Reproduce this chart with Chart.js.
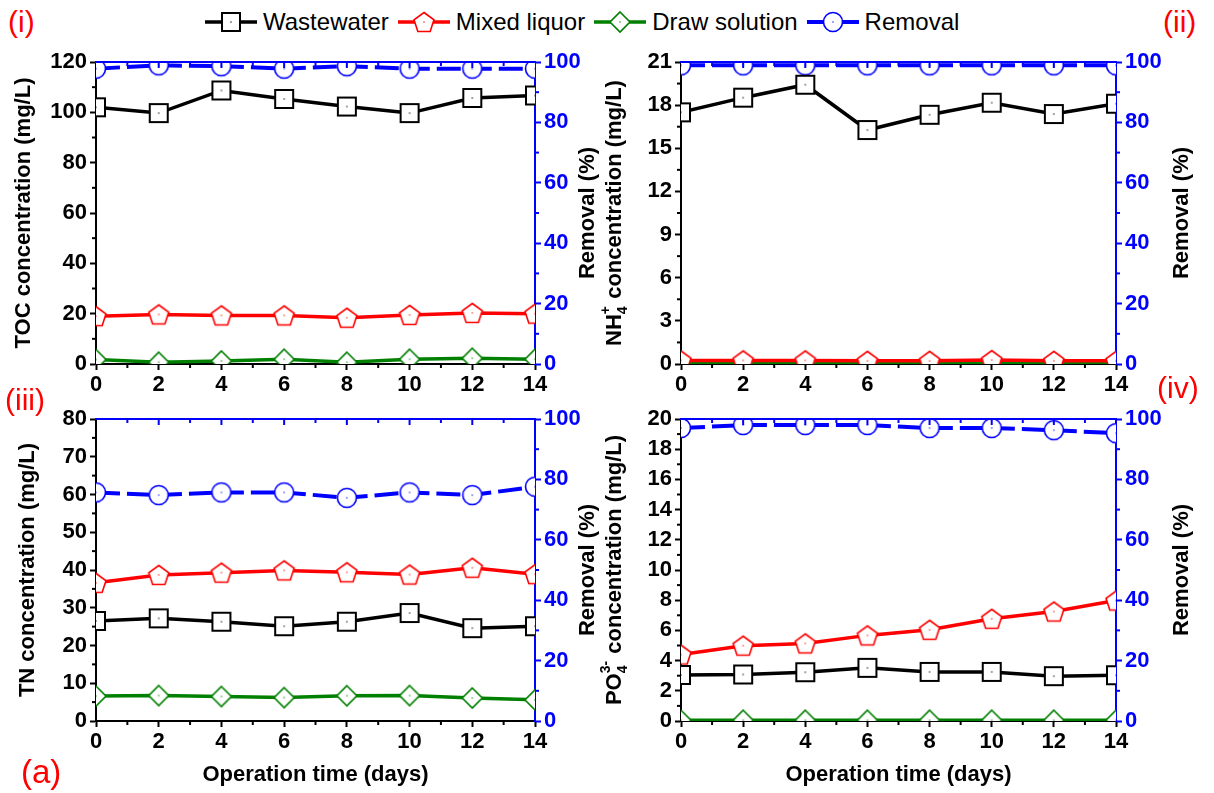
<!DOCTYPE html>
<html>
<head>
<meta charset="utf-8">
<title>Concentration and removal over operation time</title>
<script src="https://cdn.jsdelivr.net/npm/chart.js@4.4.1/dist/chart.umd.min.js"></script>
<style>
  html, body { margin: 0; padding: 0; background: #fff; }
  #page { position: relative; width: 1214px; height: 793px; overflow: hidden; font-family: "Liberation Sans", Arial, sans-serif; }
  .panel { position: absolute; }
  .tag { position: absolute; color: #ff0000; font-size: 30px; line-height: 30px; }
  #legend { position: absolute; left: 205px; top: 7px; height: 30px; display: flex; align-items: center; font-size: 24px; color: #000; white-space: nowrap; }
  #legend .item { display: flex; align-items: center; margin-right: 9px; }
  #legend canvas { margin-right: 6px; }
</style>
</head>
<body>
<div id="page">
  <div id="legend"></div>

  <canvas class="panel" id="tocChart" width="600" height="360" style="left:0;top:40px"></canvas>
  <canvas class="panel" id="nh4Chart" width="614" height="360" style="left:600px;top:40px"></canvas>
  <canvas class="panel" id="tnChart" width="600" height="393" style="left:0;top:400px"></canvas>
  <canvas class="panel" id="po4Chart" width="614" height="393" style="left:600px;top:400px"></canvas>

  <div class="tag" style="left:8px;top:7px">(i)</div>
  <div class="tag" style="left:1163px;top:7px">(ii)</div>
  <div class="tag" style="left:5px;top:385px">(iii)</div>
  <div class="tag" style="left:1157px;top:373px">(iv)</div>
  <div class="tag" style="left:21px;top:755px;font-size:33px;line-height:33px">(a)</div>
</div>

<script>
// ---- data ----
const DAYS = [0, 2, 4, 6, 8, 10, 12, 14];
const SERIES_NAMES = ['Wastewater', 'Mixed liquor', 'Draw solution', 'Removal'];

// (i) TOC
const TOC_WASTE   = [102.0, 99.7, 108.7, 105.3, 102.3, 99.7, 105.7, 106.7];
const TOC_MIXED   = [19.0, 19.7, 19.3, 19.3, 18.4, 19.5, 20.3, 20.0];
const TOC_DRAW    = [1.8, 0.7, 1.2, 1.9, 0.7, 1.9, 2.3, 1.9];
const TOC_REMOVAL = [97.8, 98.9, 98.6, 97.8, 98.6, 97.8, 97.8, 97.8];

// (ii) NH4+
const NH4_WASTE   = [17.5, 18.52, 19.42, 16.27, 17.33, 18.17, 17.38, 18.1];
const NH4_MIXED   = [0.25, 0.25, 0.25, 0.22, 0.22, 0.27, 0.22, 0.22];
const NH4_DRAW    = [0.12, 0.12, 0.12, 0.12, 0.12, 0.12, 0.12, 0.12];
const NH4_REMOVAL = [98.9, 98.9, 98.9, 98.9, 98.9, 98.9, 98.9, 98.9];

// (iii) TN
const TN_WASTE   = [26.5, 27.2, 26.3, 25.1, 26.3, 28.6, 24.6, 25.1];
const TN_MIXED   = [36.6, 38.7, 39.3, 39.9, 39.4, 38.8, 40.6, 38.9];
const TN_DRAW    = [6.6, 6.75, 6.5, 6.2, 6.7, 6.75, 6.1, 5.6];
const TN_REMOVAL = [75.7, 74.8, 75.7, 75.7, 73.9, 75.7, 74.8, 77.6];

// (iv) PO4 3-
const PO4_WASTE   = [3.05, 3.08, 3.23, 3.52, 3.25, 3.25, 2.97, 3.03];
const PO4_MIXED   = [4.4, 4.99, 5.14, 5.67, 6.04, 6.77, 7.25, 7.98];
const PO4_DRAW    = [0.05, 0.05, 0.05, 0.05, 0.05, 0.05, 0.05, 0.05];
const PO4_REMOVAL = [97.0, 98.0, 98.0, 98.0, 97.0, 97.0, 96.3, 95.3];

// ---- styling ----
const BLACK = '#000000';
const RED = '#ff0000';
const GREEN = '#008000';
const BLUE = '#0000ff';
const FONT_FAMILY = '"Liberation Sans", Arial, sans-serif';
const TICK_FONT = { family: FONT_FAMILY, size: 22, weight: 'bold' };
const TITLE_FONT = { family: FONT_FAMILY, size: 22, weight: 'bold' };

Chart.defaults.font.family = FONT_FAMILY;

// Origin-like open markers with a tiny dot in the middle
function makeMarker(color, drawShape) {
  const c = document.createElement('canvas');
  c.width = 26; c.height = 26;
  const g = c.getContext('2d');
  g.translate(13, 13);
  g.beginPath();
  drawShape(g);
  g.closePath();
  g.fillStyle = '#ffffff';
  g.fill();
  g.strokeStyle = color;
  g.lineWidth = color === BLACK ? 2 : 1.6;
  g.stroke();
  g.fillStyle = color;
  g.fillRect(-0.6, -0.6, 1.2, 1.2);
  return c;
}

const markers = {
  square: makeMarker(BLACK, g => g.rect(-9, -9, 18, 18)),
  pentagon: makeMarker(RED, g => {
    for (let k = 0; k < 5; k++) {
      const a = -Math.PI / 2 + k * 2 * Math.PI / 5;
      const px = 10.5 * Math.cos(a), py = 10.5 * Math.sin(a) + 1;
      k === 0 ? g.moveTo(px, py) : g.lineTo(px, py);
    }
  }),
  diamond: makeMarker(GREEN, g => { g.moveTo(0, -10); g.lineTo(10, 0); g.lineTo(0, 10); g.lineTo(-10, 0); }),
  circle: makeMarker(BLUE, g => g.arc(0, 0, 9.5, 0, Math.PI * 2))
};

const STYLES = [
  { color: BLACK, marker: markers.square, width: 3.5, dash: [] },
  { color: RED, marker: markers.pentagon, width: 3.5, dash: [] },
  { color: GREEN, marker: markers.diamond, width: 3.5, dash: [] },
  { color: BLUE, marker: markers.circle, width: 4, dash: [24, 7] }
];

// ---- legend ----
const legendEl = document.getElementById('legend');
SERIES_NAMES.forEach((name, i) => {
  const st = STYLES[i];
  const item = document.createElement('div');
  item.className = 'item';
  const icon = document.createElement('canvas');
  icon.width = 52; icon.height = 30;
  const g = icon.getContext('2d');
  g.strokeStyle = st.color;
  g.lineWidth = st.width;
  g.beginPath(); g.moveTo(0, 15); g.lineTo(52, 15); g.stroke();
  g.drawImage(st.marker, 26 - st.marker.width / 2, 15 - st.marker.height / 2);
  const label = document.createElement('span');
  label.textContent = name;
  item.appendChild(icon);
  item.appendChild(label);
  legendEl.appendChild(item);
});

// ---- helpers ----
function stroke(ctx, x1, y1, x2, y2) {
  ctx.beginPath(); ctx.moveTo(x1, y1); ctx.lineTo(x2, y2); ctx.stroke();
}

// vertical (bottom-to-top) text with optional stacked sub/superscript
function drawVerticalTitle(ctx, parts, cx, cy, color) {
  const big = 'bold 22px ' + FONT_FAMILY;
  const small = 'bold 14px ' + FONT_FAMILY;
  const widths = parts.map(p => {
    if (p.t !== undefined) { ctx.font = big; return ctx.measureText(p.t).width; }
    ctx.font = small;
    return Math.max(ctx.measureText(p.sub || '').width, ctx.measureText(p.sup || '').width) + 1;
  });
  const total = widths.reduce((a, b) => a + b, 0);
  ctx.save();
  ctx.translate(cx, cy);
  ctx.rotate(-Math.PI / 2);
  ctx.fillStyle = color;
  ctx.textBaseline = 'alphabetic';
  ctx.textAlign = 'left';
  let x = -total / 2;
  parts.forEach((p, i) => {
    if (p.t !== undefined) {
      ctx.font = big;
      ctx.fillText(p.t, x, 8);
    } else {
      ctx.font = small;
      if (p.sub) ctx.fillText(p.sub, x, 14);
      if (p.sup) ctx.fillText(p.sup, x, -3);
    }
    x += widths[i];
  });
  ctx.restore();
}

// top frame, minor ticks and y titles
const framePlugin = {
  id: 'frame',
  afterDraw(chart, args, opts) {
    const { ctx, chartArea: area, scales } = chart;
    const x = scales.x, y = scales.y, y1 = scales.y1;
    ctx.save();
    ctx.lineWidth = 2;

    // top border with inward ticks
    ctx.strokeStyle = BLUE;
    stroke(ctx, area.left - 1, area.top, area.right + 1, area.top);
    for (let d = x.min + 1; d < x.max; d++) {
      const px = x.getPixelForValue(d);
      stroke(ctx, px, area.top, px, area.top + (d % 2 === 0 ? 6 : 4));
    }

    // minor ticks on the bottom axis
    ctx.strokeStyle = BLACK;
    for (let d = x.min + 1; d < x.max; d += 2) {
      const px = x.getPixelForValue(d);
      stroke(ctx, px, area.bottom, px, area.bottom + 4);
    }
    // minor ticks on the left axis
    for (let v = opts.yMinor; v < y.max; v += opts.yMinor * 2) {
      const py = y.getPixelForValue(v);
      stroke(ctx, area.left, py, area.left - 4, py);
    }
    // minor ticks on the right axis
    ctx.strokeStyle = BLUE;
    for (let v = 10; v < 100; v += 20) {
      const py = y1.getPixelForValue(v);
      stroke(ctx, area.right, py, area.right + 4, py);
    }
    ctx.restore();

    const midY = (area.top + area.bottom) / 2;
    drawVerticalTitle(ctx, opts.leftTitle, opts.leftX, midY, BLACK);
    drawVerticalTitle(ctx, [{ t: 'Removal (%)' }], area.right + opts.rightGap, midY, BLACK);
  }
};

function series(values) {
  return DAYS.map((d, i) => ({ x: d, y: values[i] }));
}

function dataset(i, values, axis) {
  const st = STYLES[i];
  return {
    label: SERIES_NAMES[i],
    data: series(values),
    yAxisID: axis,
    borderColor: st.color,
    backgroundColor: st.color,
    borderWidth: st.width,
    borderDash: st.dash,
    pointStyle: st.marker,
    pointRadius: 10,
    tension: 0,
    fill: false
  };
}

function makePanel(id, cfg) {
  return new Chart(document.getElementById(id), {
    type: 'line',
    data: {
      datasets: [
        dataset(0, cfg.waste, 'y'),
        dataset(1, cfg.mixed, 'y'),
        dataset(2, cfg.draw, 'y'),
        dataset(3, cfg.removal, 'y1')
      ]
    },
    options: {
      responsive: false,
      animation: false,
      layout: { padding: { top: cfg.padTop, left: 0, right: 0, bottom: 0 } },
      plugins: {
        legend: { display: false },
        tooltip: { enabled: false },
        frame: { yMinor: cfg.yStep / 2, leftTitle: cfg.title, leftX: cfg.titleX, rightGap: cfg.rightGap }
      },
      scales: {
        x: {
          type: 'linear', min: 0, max: 14,
          afterFit: s => { s.height = cfg.xHeight; },
          border: { color: BLACK, width: 2 },
          grid: { drawOnChartArea: false, tickLength: 6, tickColor: BLACK, tickWidth: 2 },
          ticks: { stepSize: 2, color: BLACK, font: TICK_FONT, padding: 2, maxRotation: 0 },
          title: { display: cfg.xTitle, text: 'Operation time (days)', color: BLACK, font: TITLE_FONT, padding: { top: 0, bottom: 5 } }
        },
        y: {
          position: 'left', min: 0, max: cfg.yMax,
          afterFit: s => { s.width = cfg.yWidth; },
          border: { color: BLACK, width: 2 },
          grid: { drawOnChartArea: false, tickLength: 6, tickColor: BLACK, tickWidth: 2 },
          ticks: { stepSize: cfg.yStep, color: BLACK, font: TICK_FONT, padding: 3 }
        },
        y1: {
          position: 'right', min: 0, max: 100,
          afterFit: s => { s.width = cfg.y1Width; },
          border: { color: BLUE, width: 2 },
          grid: { drawOnChartArea: false, tickLength: 6, tickColor: BLUE, tickWidth: 2 },
          ticks: { stepSize: 20, color: BLUE, font: TICK_FONT, padding: 3 }
        }
      }
    },
    plugins: [framePlugin]
  });
}

makePanel('tocChart', {
  waste: TOC_WASTE, mixed: TOC_MIXED, draw: TOC_DRAW, removal: TOC_REMOVAL,
  yMax: 120, yStep: 20, padTop: 22, xHeight: 36, yWidth: 96, y1Width: 65,
  title: [{ t: 'TOC concentration (mg/L)' }], titleX: 22, rightGap: 51, xTitle: false
});

makePanel('nh4Chart', {
  waste: NH4_WASTE, mixed: NH4_MIXED, draw: NH4_DRAW, removal: NH4_REMOVAL,
  yMax: 21, yStep: 3, padTop: 22, xHeight: 36, yWidth: 81, y1Width: 98,
  title: [{ t: 'NH' }, { sub: '4', sup: '+' }, { t: ' concentration (mg/L)' }], titleX: 13, rightGap: 64, xTitle: false
});

makePanel('tnChart', {
  waste: TN_WASTE, mixed: TN_MIXED, draw: TN_DRAW, removal: TN_REMOVAL,
  yMax: 80, yStep: 10, padTop: 19, xHeight: 72, yWidth: 96, y1Width: 65,
  title: [{ t: 'TN concentration (mg/L)' }], titleX: 26, rightGap: 51, xTitle: true
});

makePanel('po4Chart', {
  waste: PO4_WASTE, mixed: PO4_MIXED, draw: PO4_DRAW, removal: PO4_REMOVAL,
  yMax: 20, yStep: 2, padTop: 19, xHeight: 72, yWidth: 81, y1Width: 98,
  title: [{ t: 'PO' }, { sub: '4', sup: '3-' }, { t: ' concentration (mg/L)' }], titleX: 13, rightGap: 64, xTitle: true
});
</script>
</body>
</html>
